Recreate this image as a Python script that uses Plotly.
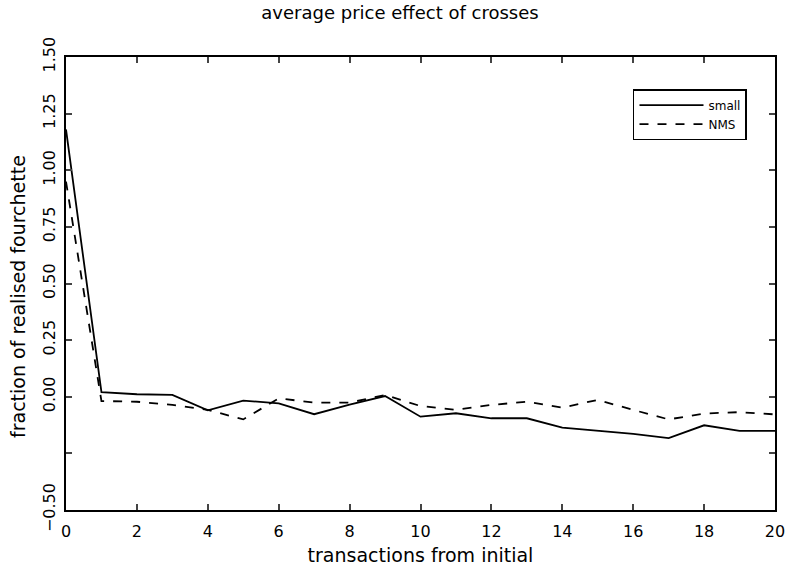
import plotly.graph_objects as go

x_vals = list(range(21))
small = [1.18, 0.02, 0.011, 0.008, -0.06, -0.017, -0.029, -0.077, -0.035, 0.003,
         -0.088, -0.073, -0.095, -0.095, -0.136, -0.151, -0.164, -0.183, -0.126, -0.151, -0.151]
nms = [0.95, -0.019, -0.022, -0.036, -0.058, -0.10, -0.007, -0.026, -0.026, 0.008,
       -0.041, -0.058, -0.036, -0.022, -0.048, -0.014, -0.058, -0.10, -0.074, -0.068, -0.078]

y_tickvals = [-0.5, -0.25, 0.0, 0.25, 0.5, 0.75, 1.0, 1.25, 1.5]
y_ticktext = ["\u22120.50", "", "0.00", "0.25", "0.50", "0.75", "1.00", "1.25", "1.50"]
x_tickvals = [0, 2, 4, 6, 8, 10, 12, 14, 16, 18, 20]

font_family = "DejaVu Sans"

fig = go.Figure()
fig.add_trace(go.Scatter(x=x_vals, y=small, mode="lines", name="small",
                         line=dict(color="black", width=1.8)))
fig.add_trace(go.Scatter(x=x_vals, y=nms, mode="lines", name="NMS",
                         line=dict(color="black", width=1.8, dash="dash")))

fig.update_layout(
    width=788, height=571, autosize=False,
    margin=dict(l=66, r=13, t=57, b=61, autoexpand=False),
    paper_bgcolor="white", plot_bgcolor="white",
    font=dict(family=font_family, color="black", size=16),
    title=dict(text="average price effect of crosses", x=400 / 788,
               xref="container", xanchor="center", y=1 - 13 / 571,
               yref="container", yanchor="middle", font=dict(size=18)),
    showlegend=True,
    legend=dict(x=0.9605, y=0.929, xanchor="right", yanchor="top",
                bordercolor="black", borderwidth=1.5, bgcolor="white",
                font=dict(size=12), tracegroupgap=0, itemwidth=64),
    xaxis=dict(range=[0, 20], tickvals=x_tickvals, ticks="inside", ticklen=6,
               tickwidth=1.5, showgrid=False, zeroline=False, showline=True,
               linecolor="black", linewidth=2, mirror="ticks",
               automargin=False, ticklabelstandoff=6,
               title=dict(text="transactions from initial", standoff=8,
                          font=dict(size=19))),
    yaxis=dict(range=[-0.5, 1.5], tickvals=y_tickvals, ticktext=y_ticktext,
               ticks="inside", ticklen=6, tickwidth=1.5, tickangle=-90,
               showgrid=False, zeroline=False, showline=True,
               linecolor="black", linewidth=2, mirror="ticks",
               automargin=False, ticklabelstandoff=3),
    annotations=[dict(text="fraction of realised fourchette",
                      xref="paper", yref="paper", x=(18 - 66) / 709,
                      y=(510 - 297) / 453, xanchor="center", yanchor="middle",
                      textangle=-90, showarrow=False, font=dict(size=19))],
)

fig.write_html(
    "out.html",
    config={"displayModeBar": False, "responsive": False},
    post_script=(
        "document.documentElement.style.overflow='hidden';"
        "document.body.style.overflow='hidden';"
        "document.body.style.margin='0';"
    ),
)
